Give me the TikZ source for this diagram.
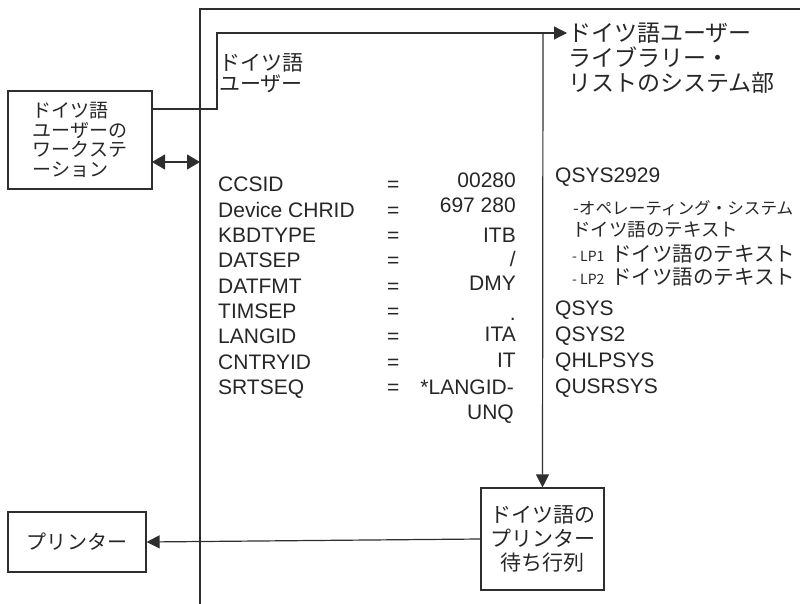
\documentclass[tikz,border=0pt]{standalone}
\usepackage{fontspec}
\setmainfont{Liberation Sans}
\newfontfamily\jp{Noto Sans CJK JP}
\usetikzlibrary{arrows.meta}
\definecolor{lc}{HTML}{2E2E2E}
\definecolor{tc}{HTML}{262626}
\tikzset{
  box/.style={draw=lc, line width=1.2pt, inner sep=0pt, text=tc},
  conn/.style={draw=lc, line width=1.2pt},
  tip/.style={-{Triangle[length=13pt,width=13pt]}},
  dtip/.style={{Triangle[length=13pt,width=15pt]}-{Triangle[length=13pt,width=15pt]}},
  lbl/.style={inner sep=0pt, anchor=base west, text=tc, font=\fontsize{21}{25}\selectfont},
  val/.style={inner sep=0pt, anchor=base east, text=tc, font=\fontsize{21}{25}\selectfont},
  jline/.style={inner sep=0pt, anchor=west, text=tc},
  jbase/.style={inner sep=0pt, anchor=base west, text=tc},
}
\begin{document}
\begin{tikzpicture}[x=1pt,y=-1pt]
\useasboundingbox (0,0) rectangle (800,604);

% boxes
\node[box, minimum width=144pt, minimum height=98pt, align=left,
      font=\jp\fontsize{19}{19.7}\selectfont] (ws) at (80,140)
      {ドイツ語\\ユーザーの\\ワークステ\\ーション};
\node[box, minimum width=138pt, minimum height=60pt,
      font=\jp\fontsize{20}{20}\selectfont] (pr) at (77,542) {プリンター};
\node[box, minimum width=123pt, minimum height=102pt, align=center,
      font=\jp\fontsize{21}{24}\selectfont] (q) at (542.5,539)
      {ドイツ語の\\プリンター\\待ち行列};

% frame
\coordinate (fb) at (200,604);
\coordinate (ft) at (200,9);
\coordinate (fr) at (800,9);
\draw[conn] (fb) -- (ft) -- (fr);

% inner path
\coordinate (wsout) at (152,109);
\coordinate (c1) at (217,109);
\coordinate (c2) at (217,33);
\coordinate (j) at (543,33);
\coordinate (libtip) at (567,33);
\draw[conn] (wsout) -- (c1) -- (c2) -- (j);
\draw[conn,tip] (j) -- (libtip);
\draw[conn,tip] (j) -- (q.north);

% double arrow
\coordinate (wsd) at (152,162);
\coordinate (frd) at (200,162);
\draw[conn,dtip] (wsd) -- (frd);

% printer arrow
\draw[conn,tip] (q.west) -- (pr.east);

% library text
\node[jbase, font=\jp\fontsize{23}{25}\selectfont] (lib1) at (568,41.5) {ドイツ語ユーザー};
\node[jbase, font=\jp\fontsize{23}{25}\selectfont] (lib2) at (568,66.5) {ライブラリー・};
\node[jbase, font=\jp\fontsize{23}{25}\selectfont] (lib3) at (568,91.5) {リストのシステム部};

% inner label
\node[jbase, font=\jp\fontsize{21}{21}\selectfont] (du1) at (219,71) {ドイツ語};
\node[jbase, font=\jp\fontsize{21}{21}\selectfont] (du2) at (219,92) {ユーザー};

% parameters
\node[lbl] (l1) at (218,192) {CCSID};
\node[lbl] (l2) at (218,217.3) {Device CHRID};
\node[lbl] (l3) at (218,242.6) {KBDTYPE};
\node[lbl] (l4) at (218,267.9) {DATSEP};
\node[lbl] (l5) at (218,293.2) {DATFMT};
\node[lbl] (l6) at (218,318.5) {TIMSEP};
\node[lbl] (l7) at (218,343.8) {LANGID};
\node[lbl] (l8) at (218,369.1) {CNTRYID};
\node[lbl] (l9) at (218,394.4) {SRTSEQ};

\foreach \i/\y in {1/192,2/217.3,3/242.6,4/267.9,5/293.2,6/318.5,7/343.8,8/369.1,9/394.4}
  \node[lbl] (e\i) at (387,\y) {=};

\node[val] (v1) at (516,188) {00280};
\node[val] (v2) at (516,212.5) {697 280};
\node[val] (v3) at (516,242) {ITB};
\node[val] (v4) at (516,266) {/};
\node[val] (v5) at (516,290) {DMY};
\node[val] (v6) at (516,320) {.};
\node[val] (v7) at (516,341.5) {ITA};
\node[val] (v8) at (516,367) {IT};
\node[val] (v9) at (514,394.4) {*LANGID-};
\node[val] (v10) at (514,419.7) {UNQ};

% right column
\node[lbl] (r1) at (555,182.5) {QSYS2929};
\node[jline, font=\jp\fontsize{16.6}{18}\selectfont] (r2) at (573,208) {-オペレーティング・システム};
\node[jline, font=\jp\fontsize{18.5}{18}\selectfont] (r3) at (572,230) {ドイツ語のテキスト};
\node[jline, font=\jp\fontsize{20.5}{18}\selectfont] (r4) at (572,254)
  {{\fontsize{14}{14}\selectfont - LP1}\hspace{7pt}ドイツ語のテキスト};
\node[jline, font=\jp\fontsize{20.5}{18}\selectfont] (r5) at (572,277)
  {{\fontsize{14}{14}\selectfont - LP2}\hspace{7pt}ドイツ語のテキスト};
\node[lbl] (r6) at (555,315) {QSYS};
\node[lbl] (r7) at (555,341) {QSYS2};
\node[lbl] (r8) at (555,367) {QHLPSYS};
\node[lbl] (r9) at (555,393) {QUSRSYS};
\end{tikzpicture}
\end{document}
